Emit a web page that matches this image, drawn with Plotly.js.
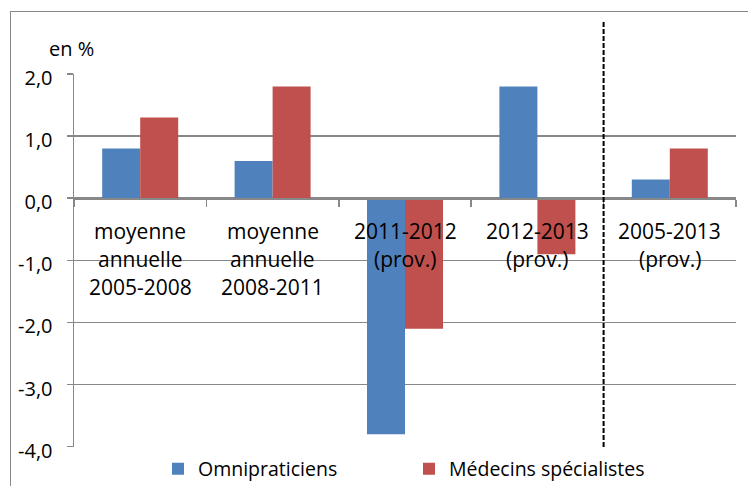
<!DOCTYPE html>
<html>
<head>
<meta charset="utf-8">
<script src="https://cdn.plot.ly/plotly-3.0.1.min.js"></script>
<style>
  html, body { margin: 0; padding: 0; background: #fff; overflow: hidden; }
  #frame { position: absolute; left: 10px; top: 11px; width: 800px; height: 520px;
           border: 1.5px solid #888; pointer-events: none; z-index: 2; }
  #chart { position: absolute; left: 0; top: 0; width: 748px; height: 486px; }
</style>
</head>
<body>
<div id="chart"></div>
<div id="frame"></div>
<script>
// ---- data ----
const categories = ["c1", "c2", "c3", "c4", "c5"];
const categoryLabels = [
  ["moyenne", "annuelle", "2005-2008"],
  ["moyenne", "annuelle", "2008-2011"],
  ["2011-2012", "(prov.)"],
  ["2012-2013", "(prov.)"],
  ["2005-2013", "(prov.)"]
];
const omnipraticiens = [0.8, 0.6, -3.8, 1.8, 0.3];
const specialistes = [1.3, 1.8, -2.1, -0.9, 0.8];
const seriesNames = ["Omnipraticiens", "Médecins spécialistes"];
const yTicks = [-4, -3, -2, -1, 0, 1, 2];
const yTickLabels = ["-4,0", "-3,0", "-2,0", "-1,0", "0,0", "1,0", "2,0"];
const unitLabel = "en %";

const FONT = "Open Sans, sans-serif";
const GRID = "#888888";

const traces = [
  { type: "bar", x: categories, y: omnipraticiens, name: seriesNames[0],
    marker: { color: "#4F81BD" } },
  { type: "bar", x: categories, y: specialistes, name: seriesNames[1],
    marker: { color: "#C0504D" } }
];

const annotations = [];
categoryLabels.forEach((lines, i) => {
  lines.forEach((t, j) => {
    annotations.push({
      x: categories[i], y: 0, xref: "x", yref: "y",
      text: t, showarrow: false, xanchor: "center", yanchor: "middle",
      yshift: -(33 + 28 * j),
      font: { family: FONT, size: 21, color: "#000" }
    });
  });
});
annotations.push({
  x: 0, y: 1, xref: "paper", yref: "paper", text: unitLabel, showarrow: false,
  xanchor: "left", yanchor: "middle", xshift: -27, yshift: 26,
  font: { family: FONT, size: 20, color: "#000" }
});

const layout = {
  width: 748, height: 486,
  margin: { l: 74, r: 11.5, t: 74, b: 39 },
  paper_bgcolor: "rgba(0,0,0,0)", plot_bgcolor: "rgba(0,0,0,0)",
  barmode: "group", bargap: 0.426, bargroupgap: 0,
  font: { family: FONT, color: "#000" },
  showlegend: true,
  legend: {
    orientation: "h", xref: "container", yref: "container",
    x: 158 / 748, y: 17 / 486, xanchor: "left", yanchor: "middle",
    entrywidth: 206, entrywidthmode: "pixels",
    font: { family: FONT, size: 19.5, color: "#000" },
    bgcolor: "rgba(0,0,0,0)"
  },
  xaxis: {
    type: "category", anchor: "free", position: 4 / 6,
    showline: true, linecolor: GRID, linewidth: 1.5,
    ticks: "outside", tickson: "boundaries", ticklen: 7, tickcolor: GRID, tickwidth: 1.5,
    showticklabels: false, showgrid: false, zeroline: false, fixedrange: true
  },
  yaxis: {
    range: [-4.005, 2], tickvals: yTicks, ticktext: yTickLabels,
    showline: true, linecolor: GRID, linewidth: 1.5,
    ticks: "outside", ticklen: 6, tickcolor: GRID, tickwidth: 1.5,
    showgrid: true, gridcolor: GRID, gridwidth: 1.5, zeroline: false,
    ticklabelstandoff: 10, ticklabelshift: 4,
    tickfont: { family: FONT, size: 20, color: "#000" }
  },
  shapes: [{
    type: "line", xref: "x", yref: "paper",
    x0: 3.5, x1: 3.5, y0: 0, y1: 1 + (74 - 22) / 373,
    line: { color: "#000", width: 2, dash: "5px,2px" }
  }],
  annotations: annotations
};

Plotly.newPlot("chart", traces, layout, { staticPlot: true, displayModeBar: false });
</script>
</body>
</html>
